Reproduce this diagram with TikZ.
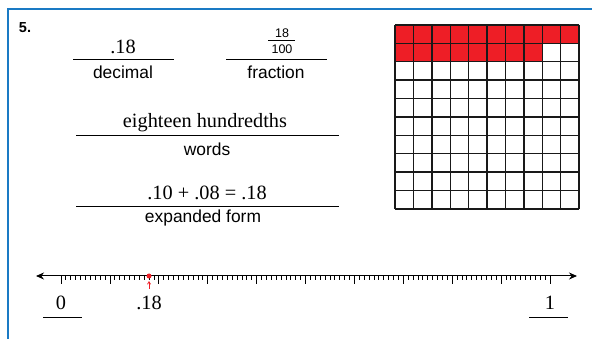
\documentclass[tikz,border=0pt]{standalone}
\usepackage{fontspec}
\setmainfont{Liberation Serif}
\setsansfont{Liberation Sans}
\usetikzlibrary{arrows.meta}
\definecolor{frameblue}{RGB}{26,122,196}
\definecolor{cellred}{RGB}{238,30,38}
\tikzset{
  serifnum/.style={font=\fontsize{20.3}{22}\selectfont, inner sep=0pt},
  sanslabel/.style={font=\sffamily\fontsize{17.4}{19}\selectfont, inner sep=0pt},
  fracnum/.style={font=\sffamily\fontsize{12.5}{14}\selectfont, inner sep=0pt},
  answerline/.style={line width=0.8pt},
  gridline/.style={line width=1.4pt, black!90},
}
\begin{document}
\begin{tikzpicture}[x=1pt,y=-1pt]
\useasboundingbox (0,0) rectangle (592,339);
\clip (0,0) rectangle (592,339);
\fill[white] (0,0) rectangle (592,339);
\draw[frameblue, line width=2pt] (8,9) rectangle (610,360);
\node[font=\sffamily\bfseries\fontsize{14.5}{16}\selectfont, inner sep=0pt] (num) at (25,28) {5.};
% decimal
\node[serifnum] (dec) at (123,47) {.18};
\coordinate (d1) at (73,59); \coordinate (d2) at (174,59);
\draw[answerline] (d1) -- (d2);
\node[sanslabel] (declab) at (123,72.5) {decimal};
% fraction
\node[fracnum] (fnum) at (282,33.5) {18};
\coordinate (fb1) at (268,40.7); \coordinate (fb2) at (295,40.7);
\draw[line width=0.7pt] (fb1) -- (fb2);
\node[fracnum] (fden) at (282,49) {100};
\coordinate (f1) at (226,59); \coordinate (f2) at (327,59);
\draw[answerline] (f1) -- (f2);
\node[sanslabel] (fraclab) at (276,72.5) {fraction};
% words
\node[serifnum] (wrd) at (205,123) {eighteen hundredths};
\coordinate (w1) at (76,135); \coordinate (w2) at (339,135);
\draw[answerline] (w1) -- (w2);
\node[sanslabel] (wrdlab) at (207,149) {words};
% expanded
\node[serifnum] (exp) at (207,193) {.10 + .08 = .18};
\coordinate (e1) at (76,206); \coordinate (e2) at (339,206);
\draw[answerline] (e1) -- (e2);
\node[sanslabel] (explab) at (203,218) {expanded form};
% grid
\foreach \i in {0,...,9} \fill[cellred] ({395+\i*18.4},25) rectangle ++(18.4,18.4);
\foreach \i in {0,...,7} \fill[cellred] ({395+\i*18.4},43.4) rectangle ++(18.4,18.4);
\foreach \i in {0,...,10} {
  \draw[gridline] ({395+\i*18.4},25) -- ({395+\i*18.4},209);
  \draw[gridline] (395,{25+\i*18.4}) -- (579,{25+\i*18.4});
}
% number line
\coordinate (la) at (36,276); \coordinate (ra) at (577,276);
\draw[line width=1pt, {Stealth[length=8pt,width=7pt]}-{Stealth[length=8pt,width=7pt]}] (la) -- (ra);
\foreach \i in {0,...,100} {
  \pgfmathsetmacro{\tl}{ifthenelse(mod(\i,10)==0,8,4)}
  \draw[line width=0.8pt] ({61+\i*4.89},276) -- ++(0,\tl);
}
\fill[cellred] (149,276) circle (2.5);
\coordinate (ab) at (149,289); \coordinate (at) at (149,281);
\draw[cellred, line width=0.8pt, -{Straight Barb[length=2.5pt,width=3pt]}] (ab) -- (at);
\node[serifnum] (zero) at (61,303) {0};
\coordinate (z1) at (43,317); \coordinate (z2) at (82,317);
\draw[answerline] (z1) -- (z2);
\node[serifnum] (pt18) at (149,303) {.18};
\node[serifnum] (one) at (550,303) {1};
\coordinate (o1) at (529,317); \coordinate (o2) at (568,317);
\draw[answerline] (o1) -- (o2);
\end{tikzpicture}
\end{document}
